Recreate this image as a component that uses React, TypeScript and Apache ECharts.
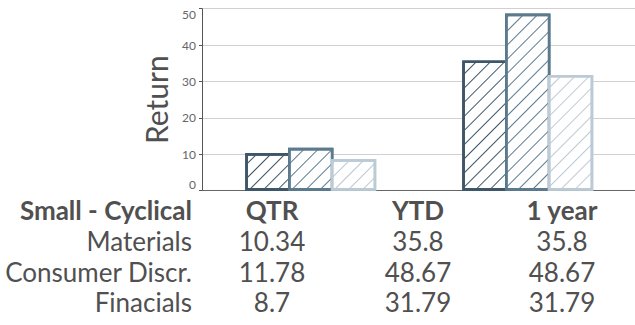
import React, { useEffect, useRef } from "react";
import * as echarts from "echarts";

// Return by period for each sector in the Small - Cyclical group
const groupTitle = "Small - Cyclical";
const periods = ["QTR", "YTD", "1 year"];
const sectors = ["Materials", "Consumer Discr.", "Finacials"];
const materials = [10.34, 35.8, 35.8];
const consumerDiscr = [11.78, 48.67, 48.67];
const financials = [8.7, 31.79, 31.79];
// periods that get bars in the chart
const chartedPeriods = ["QTR", "1 year"];
const yTicks = { min: 0, max: 50, interval: 10 };

const sectorValues = [materials, consumerDiscr, financials];
const sectorColors = ["#3e5667", "#5b7a8e", "#bccad5"];

const FONT = "Lato, 'Noto Sans', sans-serif";
const TEXT = "#505050";
const BORDER = 2.6;

export default function App() {
  const ref = useRef<HTMLDivElement>(null);

  useEffect(() => {
    if (!ref.current) return;
    const chart = echarts.init(ref.current, null, { renderer: "svg" });

    const plotTop = 8.7;
    const plotBottom = 190.7;
    const plotH = plotBottom - plotTop;
    const barW = 45.4;

    const series = sectors.map((name, i) => {
      const c = sectorColors[i];
      return {
        name,
        type: "bar",
        xAxisIndex: 1,
        yAxisIndex: 1,
        clip: false,
        barWidth: barW,
        // neighbouring bars share one border
        barGap: `${(-BORDER / barW) * 100}%`,
        data: periods.map((p, j) =>
          chartedPeriods.includes(p) ? sectorValues[i][j] : null
        ),
        itemStyle: {
          color: "#ffffff",
          borderColor: c,
          borderWidth: BORDER,
          decal: {
            symbol: "rect",
            symbolSize: 1,
            color: c,
            dashArrayX: [1, 0],
            dashArrayY: [0.8, 9],
            rotation: -Math.PI / 4,
          },
        },
      };
    });

    // data table under the plot
    const colX = [272, 418, 562];
    const labelRight = 192;
    const headerY = 210;
    const rowY = [241, 271.5, 302];
    const graphics: any[] = [];
    const cell = (text: string, x: number, y: number, bold: boolean, align: string) => ({
      type: "text",
      x,
      y,
      style: {
        text,
        fill: TEXT,
        font: `${bold ? "bold" : "normal"} 26px ${FONT}`,
        textAlign: align,
        textVerticalAlign: "middle",
      },
    });
    graphics.push(cell(groupTitle, labelRight, headerY, true, "right"));
    periods.forEach((p, j) => graphics.push(cell(p, colX[j], headerY, true, "center")));
    sectors.forEach((s, i) => {
      graphics.push(cell(s, labelRight, rowY[i], false, "right"));
      sectorValues[i].forEach((v, j) =>
        graphics.push(cell(String(v), colX[j], rowY[i], false, "center"))
      );
    });

    chart.setOption({
      animation: false,
      aria: { enabled: true, decal: { show: true } },
      grid: [
        { left: 202, right: 0, top: plotTop, height: plotH },
        { left: 256.5, width: 325.5, top: plotTop, height: plotH },
      ],
      xAxis: [
        {
          type: "category",
          gridIndex: 0,
          data: periods,
          axisLine: { show: true, lineStyle: { color: "#666", width: 1 } },
          axisTick: { show: false },
          axisLabel: { show: false },
          splitLine: { show: false },
        },
        {
          type: "category",
          gridIndex: 1,
          data: periods,
          axisLine: { show: false },
          axisTick: { show: false },
          axisLabel: { show: false },
          splitLine: { show: false },
        },
      ],
      yAxis: [
        {
          type: "value",
          gridIndex: 0,
          min: yTicks.min,
          max: yTicks.max,
          interval: yTicks.interval,
          name: "Return",
          nameLocation: "middle",
          nameGap: 31,
          nameTextStyle: {
            fontFamily: FONT,
            fontSize: 30,
            fontWeight: "normal",
            color: TEXT,
          },
          axisLine: { show: true, lineStyle: { color: "#555", width: 1 } },
          axisTick: { show: true, length: 3, lineStyle: { color: "#555" } },
          axisLabel: {
            fontFamily: FONT,
            fontSize: 12,
            color: "#666",
            margin: 6,
            verticalAlignMinLabel: "bottom",
            verticalAlignMaxLabel: "top",
          },
          splitLine: { show: true, lineStyle: { color: "#d0d0d0", width: 1 } },
        },
        {
          type: "value",
          gridIndex: 1,
          min: yTicks.min,
          max: yTicks.max,
          interval: yTicks.interval,
          show: false,
          splitLine: { show: false },
        },
      ],
      series,
      graphic: graphics,
    });

    return () => chart.dispose();
  }, []);

  return (
    <div
      ref={ref}
      style={{ position: "fixed", left: 0, top: 0, width: 635, height: 325, background: "#fff" }}
    />
  );
}
